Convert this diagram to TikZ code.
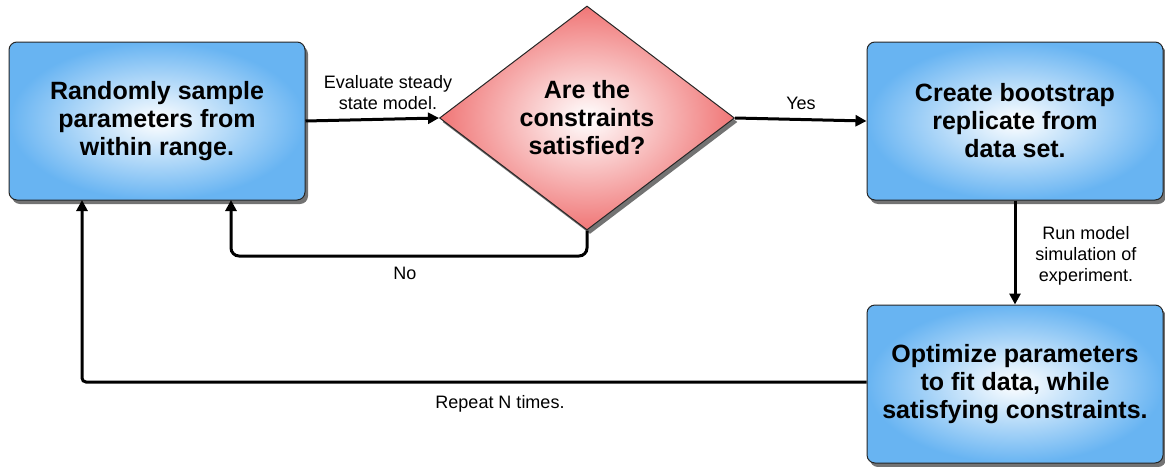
\documentclass[tikz,border=0pt]{standalone}
\usepackage{fontspec}
\setmainfont{Liberation Sans}
\usetikzlibrary{shapes.geometric,shadows,arrows.meta}
\definecolor{boxblue}{RGB}{104,180,242}
\definecolor{diared}{RGB}{240,118,118}
\begin{document}
\begin{tikzpicture}[x=1pt,y=-1pt,
  box/.style={draw=black!85, line width=1pt, rounded corners=8pt,
    shading=radial, inner color=white, outer color=boxblue,
    minimum width=296pt, minimum height=158pt, align=center,
    font=\fontsize{25}{28}\selectfont\bfseries,
    drop shadow={shadow xshift=3pt, shadow yshift=-4pt, opacity=0.55, fill=black}},
  dia/.style={diamond, draw=black!85, line width=1pt,
    shading=radial, inner color=white, outer color=diared,
    minimum width=295pt, minimum height=224pt, inner sep=0pt, align=center,
    font=\fontsize{25}{28}\selectfont\bfseries,
    drop shadow={shadow xshift=3pt, shadow yshift=-4pt, opacity=0.55, fill=black}},
  arr/.style={line width=3pt, -{Triangle[length=11pt,width=11pt]}},
  lbl/.style={align=center, font=\fontsize{18}{21}\selectfont, inner sep=0pt}
]
\useasboundingbox (0,0) rectangle (1165,466);
\node[box] (b1) at (157,121) {Randomly sample\\parameters from\\within range.};
\node[dia] (d) at (587,118) {Are the\\constraints\\satisfied?};
\node[box] (b2) at (1015,121) {Create bootstrap\\replicate from\\data set.};
\node[box] (b3) at (1015,384) {Optimize parameters\\to fit data, while\\satisfying constraints.};

\draw[arr] (b1.east) -- (d.west);
\draw[arr] (d.east) -- (b2.west);
\draw[arr] (b2.south) -- (b3.north);
\coordinate (nc) at (231,256);
\coordinate (nt) at (231,200);
\draw[arr, rounded corners=8pt] (d.south) |- (nc) -- (nt);
\coordinate (rc) at (82,382);
\coordinate (rt) at (82,200);
\draw[arr, rounded corners=4pt] (b3.west |- rc) -- (rc) -- (rt);

\node[lbl] (l1) at (388,93) {Evaluate steady\\state model.};
\node[lbl] (l2) at (801,103) {Yes};
\node[lbl] (l3) at (1086,256) {Run model\\simulation of\\experiment.};
\node[lbl] (l4) at (405,273) {No};
\node[lbl] (l5) at (500,404) {Repeat N times.};
\end{tikzpicture}
\end{document}
